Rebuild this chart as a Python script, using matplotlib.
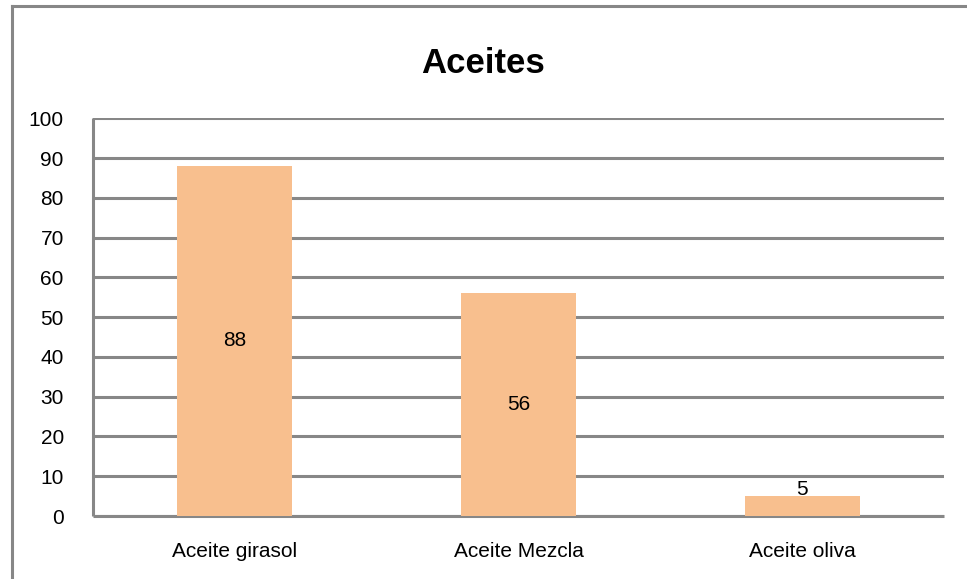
import matplotlib.pyplot as plt
from matplotlib.lines import Line2D

categorias = ['Aceite girasol', 'Aceite Mezcla', 'Aceite oliva']
valores = [88, 56, 5]
yticks = [0, 10, 20, 30, 40, 50, 60, 70, 80, 90, 100]

gris = '#878787'
naranja = '#F8BF8E'

plt.rcParams['font.family'] = ['Liberation Sans', 'DejaVu Sans']

fig = plt.figure(figsize=(9.67, 5.79), dpi=100)
ax = fig.add_axes([0.0962, 0.1088, 0.880, 0.687])

x = range(len(categorias))
barras = ax.bar(x, valores, width=0.405, color=naranja, zorder=3)

# etiquetas de valor dentro de la barra (o encima si es muy baja)
for xi, v in zip(x, valores):
    if v / 2 < 8:
        ax.text(xi, v - 0.8, str(v), ha='center', va='bottom', fontsize=15, zorder=4)
    else:
        ax.text(xi, v / 2, str(v), ha='center', va='center', fontsize=15, zorder=4)

ax.set_xlim(-0.5, len(categorias) - 0.5)
ax.set_ylim(0, 100)
ax.set_yticks(yticks)
ax.set_xticks(list(x))
ax.set_xticklabels(categorias, fontsize=15)
ax.tick_params(axis='y', length=0, pad=21, labelsize=15)
ax.tick_params(axis='x', length=0, pad=19)

ax.grid(axis='y', color=gris, linewidth=2.2, zorder=1)
for lado in ['top', 'right']:
    ax.spines[lado].set_visible(False)
for lado in ['left', 'bottom']:
    ax.spines[lado].set_color(gris)
    ax.spines[lado].set_linewidth(2.2)
    ax.spines[lado].set_zorder(2)
    ax.spines[lado].set_capstyle('butt')

fig.text(0.5, 0.891, 'Aceites', ha='center', va='center', fontsize=25, fontweight='bold')

# marco exterior del gráfico
fig.add_artist(Line2D([12 / 967, 12 / 967], [0, 1 - 6 / 579], color=gris, linewidth=2.2))
fig.add_artist(Line2D([12 / 967, 1], [1 - 6 / 579, 1 - 6 / 579], color=gris, linewidth=2.2))

fig.savefig('out.png', dpi=100)
